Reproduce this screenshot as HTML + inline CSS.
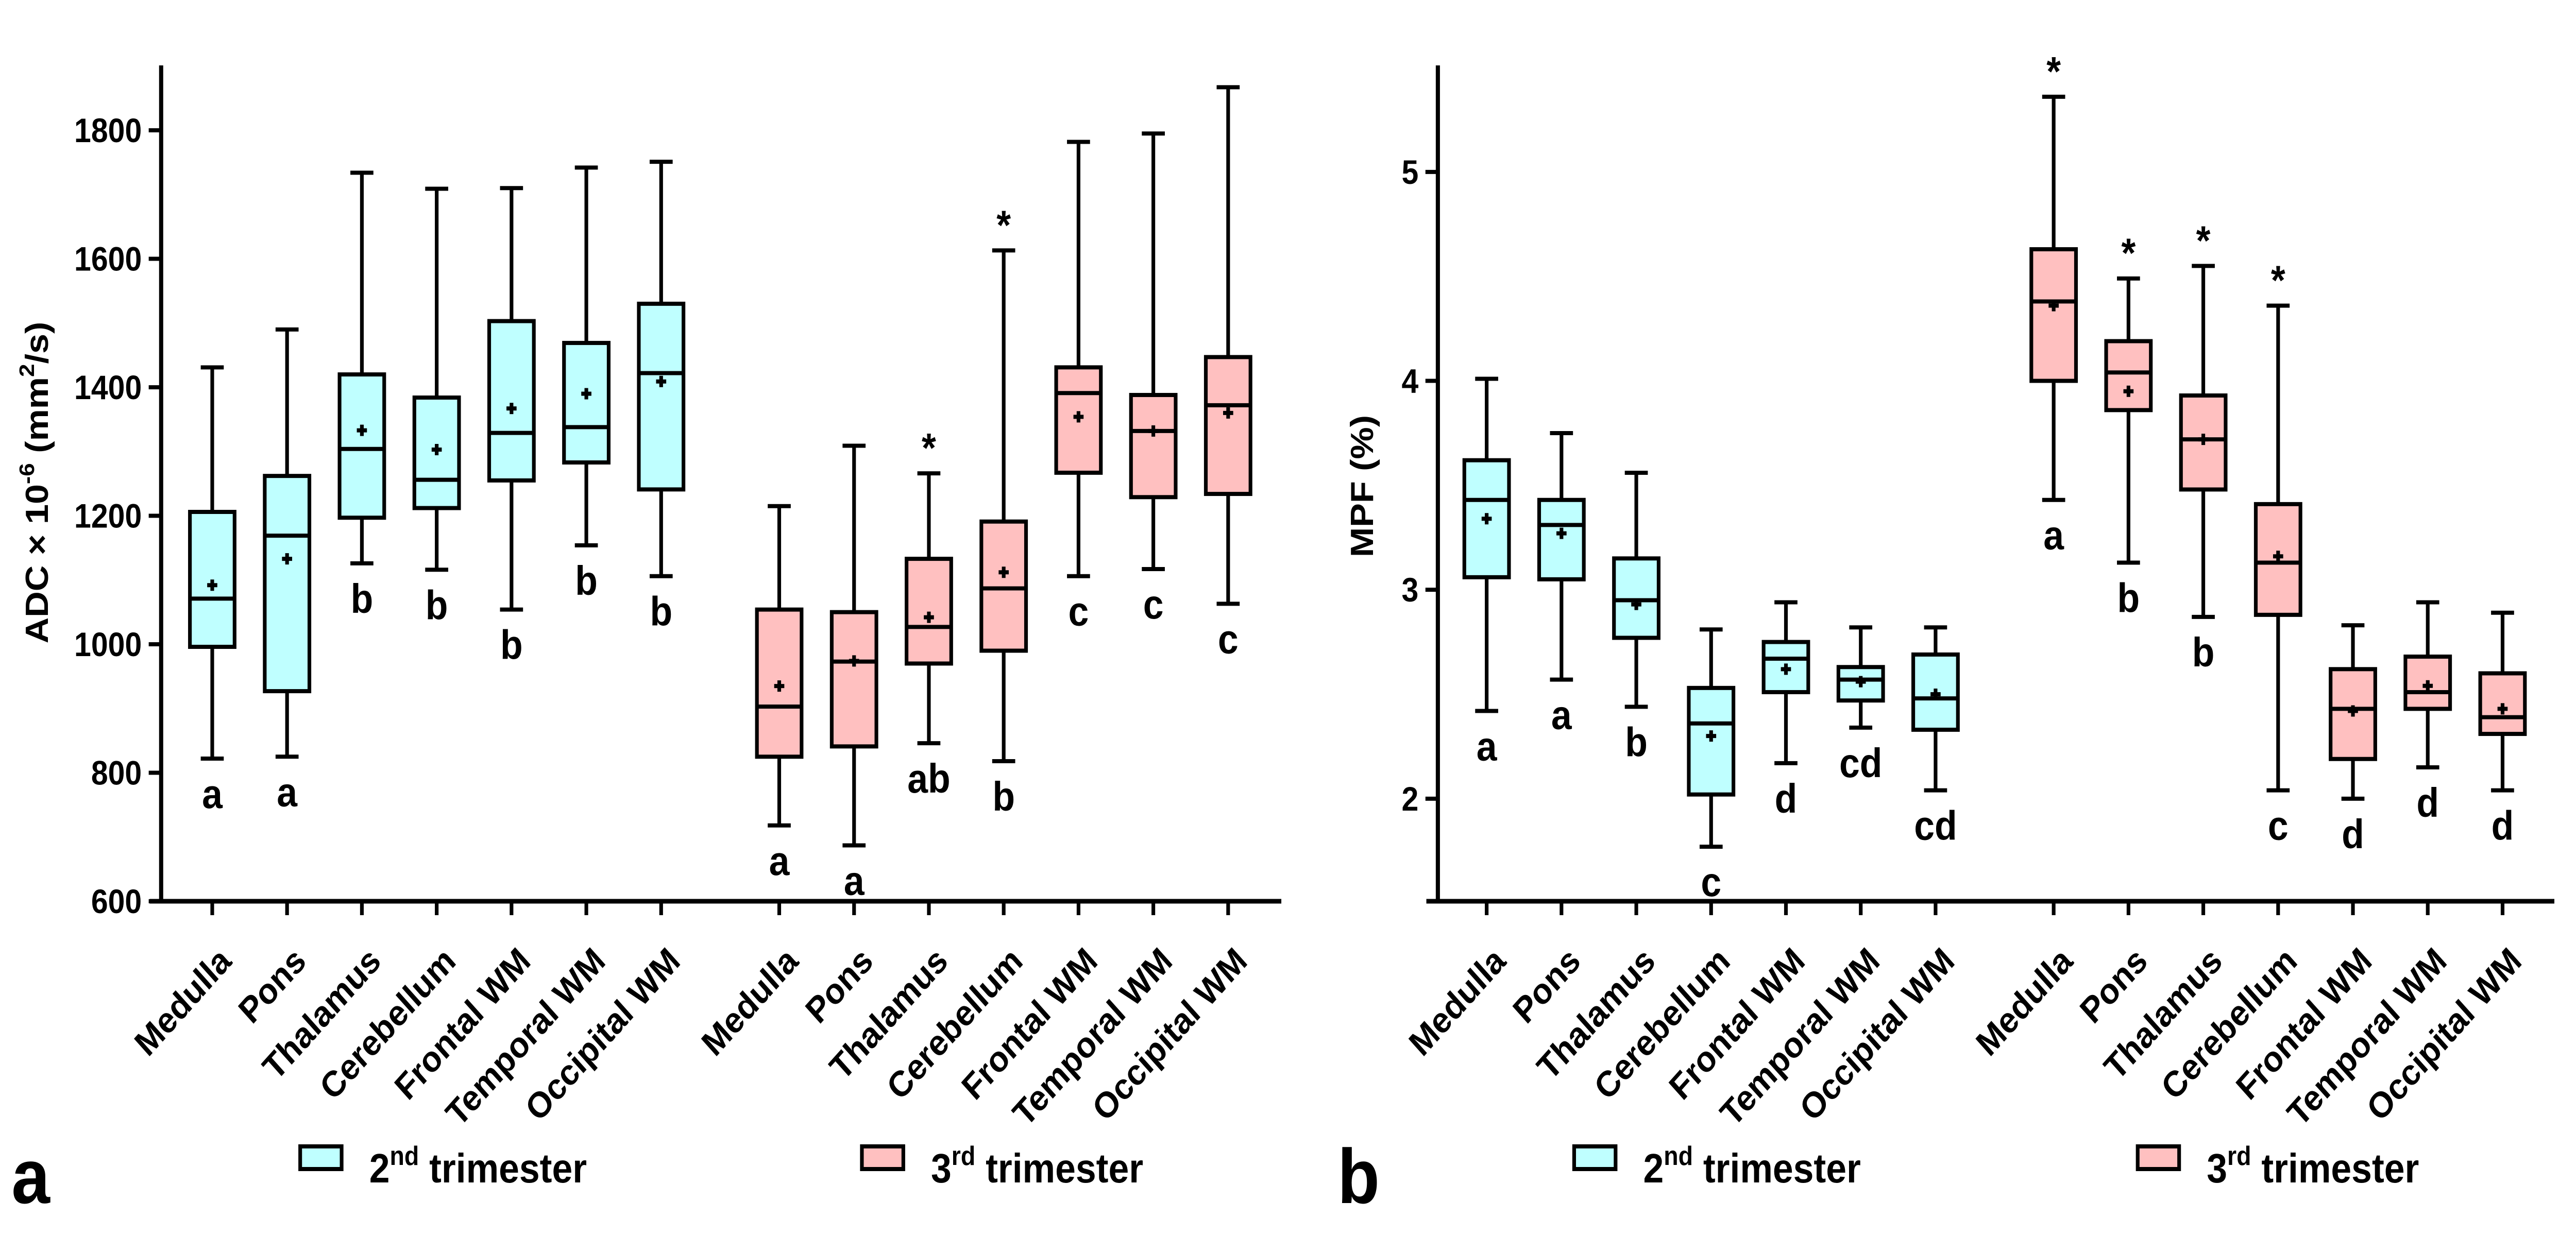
<!DOCTYPE html>
<html><head><meta charset="utf-8"><style>
html,body{margin:0;padding:0;background:#fff;width:100%;height:100%;overflow:hidden;}
svg{display:block;width:100vw;height:100vh;}
text{font-family:"Liberation Sans",Arial,sans-serif;font-weight:bold;fill:#000;}
</style></head><body>
<svg id="fig" viewBox="0 0 5595 2400" preserveAspectRatio="none" xmlns="http://www.w3.org/2000/svg"></svg>
<script>
const categories = ["Medulla","Pons","Thalamus","Cerebellum","Frontal WM","Temporal WM","Occipital WM"];
// ADC panel: [whiskerLow, Q1, median, Q3, whiskerHigh], mean, group letter, star
const adcLow  = [822,825,1126,1116,1054,1154,1106, 718,687,846,818,1106,1117,1063];
const adcQ1   = [996,927,1197,1212,1255,1283,1241, 825,841,970,990,1267,1229,1234];
const adcMed  = [1071,1169,1304,1256,1329,1338,1422, 903,973,1027,1087,1391,1332,1372];
const adcQ3   = [1206,1262,1420,1384,1503,1469,1530, 1054,1050,1133,1191,1431,1388,1447];
const adcHigh = [1431,1490,1734,1709,1710,1742,1751, 1215,1309,1266,1613,1782,1795,1867];
const adcMean = [1092,1133,1333,1303,1367,1390,1409, 935,974,1042,1112,1354,1332,1360];
const adcLetters = ["a","a","b","b","b","b","b","a","a","ab","b","c","c","c"];
const adcStars = [0,0,0,0,0,0,0, 0,0,1,1,0,0,0];
const adcTicks = [600,800,1000,1200,1400,1600,1800];
// MPF panel
const mpfLow  = [2.42,2.57,2.44,1.77,2.17,2.34,2.04, 3.43,3.13,2.87,2.04,2.00,2.15,2.04];
const mpfQ1   = [3.06,3.05,2.77,2.02,2.51,2.47,2.33, 4.00,3.86,3.48,2.88,2.19,2.43,2.31];
const mpfMed  = [3.43,3.31,2.95,2.36,2.67,2.57,2.48, 4.38,4.04,3.72,3.13,2.43,2.51,2.39];
const mpfQ3   = [3.62,3.43,3.15,2.53,2.75,2.63,2.69, 4.63,4.19,3.93,3.41,2.62,2.68,2.60];
const mpfHigh = [4.01,3.75,3.56,2.81,2.94,2.82,2.82, 5.36,4.49,4.55,4.36,2.83,2.94,2.89];
const mpfMean = [3.34,3.27,2.93,2.30,2.62,2.56,2.50, 4.36,3.95,3.72,3.16,2.42,2.54,2.43];
const mpfLetters = ["a","a","b","c","d","cd","cd","a","b","b","c","d","d","d"];
const mpfStars = [0,0,0,0,0,0,0, 1,1,1,1,0,0,0];
const mpfTicks = [2,3,4,5];

const NS="http://www.w3.org/2000/svg";
const svg=document.getElementById('fig');
function mk(tag,attrs,parent){const e=document.createElementNS(NS,tag);for(const k in attrs)e.setAttribute(k,attrs[k]);(parent||svg).appendChild(e);return e;}

function panel(cfg){
  const g=mk('g',{});
  
  
  const y=v=>cfg.yBottom-(v-cfg.vmin)/(cfg.vmax-cfg.vmin)*(cfg.yBottom-cfg.yTop);
  const x=i=>cfg.x0+i*cfg.step+(i>=7?cfg.gap:0);
  const ya=mk('line',{x1:cfg.axisX,y1:cfg.yTop,x2:cfg.axisX,y2:cfg.yBottom+4,stroke:'#000','stroke-width':9},g);
  
  
  const xa=mk('line',{x1:cfg.axisX-25,y1:cfg.yBottom,x2:cfg.axisRight,y2:cfg.yBottom,stroke:'#000','stroke-width':9},g);
  
  
  cfg.ticks.forEach(t=>{
    mk('line',{x1:cfg.axisX-27,y1:y(t),x2:cfg.axisX,y2:y(t),stroke:'#000','stroke-width':8},g);
    const tl=mk('text',{x:cfg.axisX-42,y:y(t)+23,'font-size':66,'text-anchor':'end'},g);
    tl.textContent=t;
    
    
  });
  const yt=mk('text',{x:0,y:0,'font-size':70,'text-anchor':'middle',transform:`translate(${cfg.titleX},${cfg.titleY}) rotate(-90)`},g);
  yt.innerHTML=cfg.titleHTML;
  
  
  for(let i=0;i<14;i++){
    const cx=x(i), bw=97, cw=50;
    const fill=i<7?'#bfffff':'#ffc0c0';
    const bg=mk('g',{},g);
    
    
    mk('line',{x1:cx,y1:y(cfg.high[i]),x2:cx,y2:y(cfg.low[i]),stroke:'#000','stroke-width':8},bg);
    mk('line',{x1:cx-cw/2,y1:y(cfg.high[i]),x2:cx+cw/2,y2:y(cfg.high[i]),stroke:'#000','stroke-width':8},bg);
    mk('line',{x1:cx-cw/2,y1:y(cfg.low[i]),x2:cx+cw/2,y2:y(cfg.low[i]),stroke:'#000','stroke-width':8},bg);
    mk('rect',{x:cx-bw/2,y:y(cfg.q3[i]),width:bw,height:y(cfg.q1[i])-y(cfg.q3[i]),fill:fill,stroke:'#000','stroke-width':8},bg);
    mk('line',{x1:cx-bw/2,y1:y(cfg.med[i]),x2:cx+bw/2,y2:y(cfg.med[i]),stroke:'#000','stroke-width':8},bg);
    const my=y(cfg.mean[i]);
    mk('path',{d:`M${cx-11} ${my}H${cx+11}M${cx} ${my-11}V${my+11}`,stroke:'#000','stroke-width':8},bg);
    const lt=mk('text',{x:cx,y:y(cfg.low[i])+96,'font-size':80,'text-anchor':'middle'},g);
    lt.textContent=cfg.letters[i];
    
    
    if(cfg.stars[i]){
      const st=mk('text',{x:cx,y:y(cfg.high[i])-22,'font-size':80,'text-anchor':'middle'},g);
      st.textContent='*';
      
      
    }
    mk('line',{x1:cx,y1:cfg.yBottom,x2:cx,y2:cfg.yBottom+27,stroke:'#000','stroke-width':8},g);
    const cl=mk('text',{x:0,y:0,'font-size':70,'text-anchor':'end',transform:`translate(${cx+45},${cfg.yBottom+120}) rotate(-45)`},g);
    cl.textContent=categories[i%7];
    
    
  }
  [[cfg.leg1,'#bfffff','2','nd'],[cfg.leg2,'#ffc0c0','3','rd']].forEach(([lx,col,n,sup])=>{
    const lg=mk('g',{},g);
    
    
    mk('rect',{x:lx,y:2226,width:90,height:44,fill:col,stroke:'#000','stroke-width':8},lg);
    const t=mk('text',{x:lx+150,y:2296,'font-size':80},lg);
    t.innerHTML=`${n}<tspan font-size="52" dy="-34">${sup}</tspan><tspan dy="34"> trimester</tspan>`;
  });
  const pl=mk('text',{x:cfg.letterX,y:2336,'font-size':150},g);
  pl.textContent=cfg.letter;
  
  
}

panel({name:'adc-panel',vmin:600,vmax:1901,yBottom:1750,yTop:127,axisX:350,axisRight:2783,x0:461,step:162.5,gap:94,
  ticks:adcTicks,low:adcLow,q1:adcQ1,med:adcMed,q3:adcQ3,high:adcHigh,mean:adcMean,letters:adcLetters,stars:adcStars,
  titleX:104,titleY:937,titleHTML:'ADC × 10<tspan font-size="46" dy="-30">-6</tspan><tspan dy="30"> (mm</tspan><tspan font-size="46" dy="-30">2</tspan><tspan dy="30">/s)</tspan>',
  leg1:652,leg2:1872,letter:'a',letterX:25});
panel({name:'mpf-panel',vmin:1.509,vmax:5.51,yBottom:1750,yTop:127,axisX:3123,axisRight:5548,x0:3229,step:162.5,gap:94,
  ticks:mpfTicks,low:mpfLow,q1:mpfQ1,med:mpfMed,q3:mpfQ3,high:mpfHigh,mean:mpfMean,letters:mpfLetters,stars:mpfStars,
  titleX:2982,titleY:944,titleHTML:'MPF (%)',
  leg1:3419,leg2:4643,letter:'b',letterX:2905});
</script>
</body></html>
